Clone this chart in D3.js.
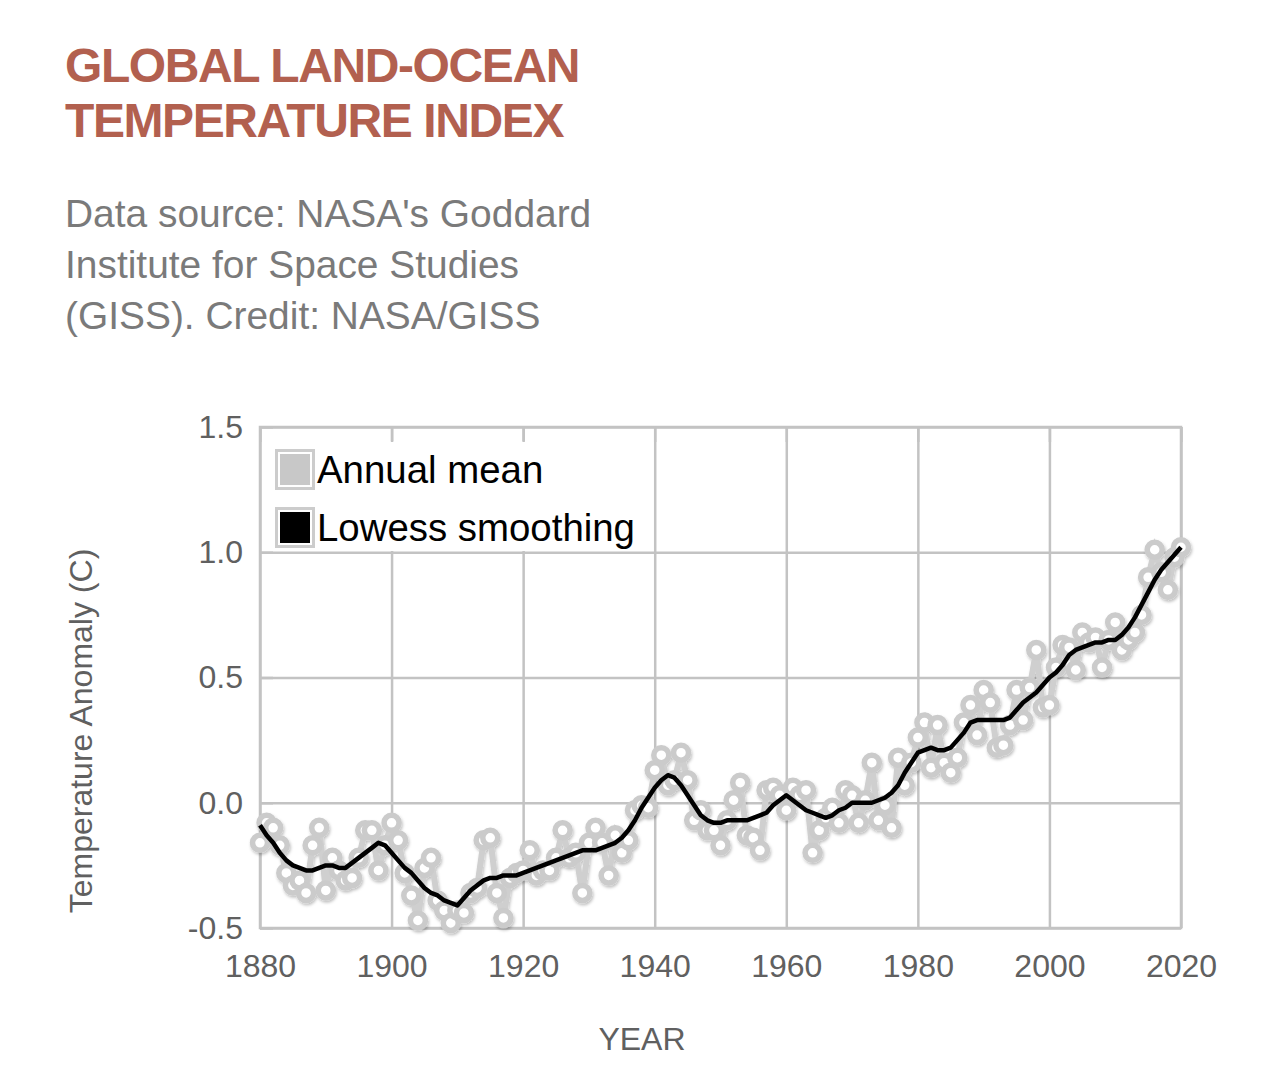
<!DOCTYPE html>
<html>
<head>
<meta charset="utf-8">
<script src="https://cdn.jsdelivr.net/npm/d3@7"></script>
<style>
  body { margin: 0; background: #fff; font-family: "Liberation Sans", Arial, sans-serif; }
  svg { display: block; }
</style>
</head>
<body>
<div id="chart"></div>
<script>
// GISTEMP annual mean anomaly, 1880-2020
var startYear = 1880;
var annualMean = [
  -0.16, -0.08, -0.10, -0.17, -0.28, -0.33, -0.31, -0.36, -0.17, -0.10,
  -0.35, -0.22, -0.27, -0.31, -0.30, -0.22, -0.11, -0.11, -0.27, -0.17,
  -0.08, -0.15, -0.28, -0.37, -0.47, -0.26, -0.22, -0.39, -0.43, -0.48,
  -0.43, -0.44, -0.36, -0.34, -0.15, -0.14, -0.36, -0.46, -0.30, -0.28,
  -0.27, -0.19, -0.29, -0.27, -0.27, -0.22, -0.11, -0.22, -0.20, -0.36,
  -0.16, -0.10, -0.16, -0.29, -0.13, -0.20, -0.15, -0.03, -0.01, -0.02,
   0.13,  0.19,  0.07,  0.09,  0.20,  0.09, -0.07, -0.03, -0.11, -0.11,
  -0.17, -0.07,  0.01,  0.08, -0.13, -0.14, -0.19,  0.05,  0.06,  0.03,
  -0.03,  0.06,  0.03,  0.05, -0.20, -0.11, -0.06, -0.02, -0.08,  0.05,
   0.03, -0.08,  0.01,  0.16, -0.07, -0.01, -0.10,  0.18,  0.07,  0.16,
   0.26,  0.32,  0.14,  0.31,  0.16,  0.12,  0.18,  0.32,  0.39,  0.27,
   0.45,  0.40,  0.22,  0.23,  0.31,  0.45,  0.33,  0.46,  0.61,  0.38,
   0.39,  0.54,  0.63,  0.62,  0.53,  0.68,  0.64,  0.66,  0.54,  0.65,
   0.72,  0.61,  0.65,  0.68,  0.75,  0.90,  1.01,  0.92,  0.85,  0.98,
   1.02
];
var lowess = [
  -0.09, -0.13, -0.16, -0.20, -0.23, -0.25, -0.26, -0.27, -0.27, -0.26,
  -0.25, -0.25, -0.26, -0.26, -0.24, -0.22, -0.20, -0.18, -0.16, -0.17,
  -0.20, -0.23, -0.26, -0.28, -0.31, -0.34, -0.36, -0.37, -0.39, -0.40,
  -0.41, -0.38, -0.35, -0.33, -0.31, -0.30, -0.30, -0.29, -0.29, -0.29,
  -0.28, -0.27, -0.26, -0.25, -0.24, -0.23, -0.22, -0.21, -0.20, -0.19,
  -0.19, -0.19, -0.18, -0.17, -0.16, -0.14, -0.11, -0.07, -0.02,  0.02,
   0.06,  0.09,  0.11,  0.10,  0.07,  0.03, -0.01, -0.05, -0.07, -0.08,
  -0.08, -0.07, -0.07, -0.07, -0.07, -0.06, -0.05, -0.04, -0.01,  0.01,
   0.03,  0.01, -0.01, -0.03, -0.04, -0.05, -0.06, -0.05, -0.03, -0.02,
   0.00,  0.00,  0.00,  0.00,  0.01,  0.02,  0.04,  0.07,  0.12,  0.16,
   0.20,  0.21,  0.22,  0.21,  0.21,  0.22,  0.25,  0.28,  0.32,  0.33,
   0.33,  0.33,  0.33,  0.33,  0.34,  0.37,  0.40,  0.42,  0.44,  0.47,
   0.50,  0.52,  0.55,  0.59,  0.61,  0.62,  0.63,  0.64,  0.64,  0.65,
   0.65,  0.67,  0.70,  0.74,  0.79,  0.84,  0.89,  0.93,  0.96,  0.99,
   1.02
];
var xTicks = [1880, 1900, 1920, 1940, 1960, 1980, 2000, 2020];
var yTicks = [-0.5, 0.0, 0.5, 1.0, 1.5];
var legendLabels = ['Annual mean', 'Lowess smoothing'];

var data = annualMean.map(function (v, i) {
    return { year: startYear + i, value: v, smooth: lowess[i] };
});

var W = 1284, H = 1090;
var margin = { top: 427, right: 103, bottom: 162, left: 260 };
var width = W - margin.left - margin.right;
var height = H - margin.top - margin.bottom;

var svg = d3.select('#chart').append('svg')
    .attr('width', W)
    .attr('height', H);

// Title + source
var titleColor = '#b2604f';
svg.append('text')
    .attr('x', 65).attr('y', 82)
    .style('font-size', '48px').style('font-weight', 'bold')
    .style('letter-spacing', '-1.4px')
    .style('fill', titleColor)
    .text('GLOBAL LAND-OCEAN');
svg.append('text')
    .attr('x', 65).attr('y', 137)
    .style('font-size', '48px').style('font-weight', 'bold')
    .style('letter-spacing', '-1.4px')
    .style('fill', titleColor)
    .text('TEMPERATURE INDEX');

var sourceLines = ["Data source: NASA's Goddard", 'Institute for Space Studies', '(GISS). Credit: NASA/GISS'];
svg.selectAll('.src')
    .data(sourceLines)
    .enter().append('text')
    .attr('class', 'src')
    .attr('x', 65)
    .attr('y', function (d, i) { return 227 + i * 51; })
    .style('font-size', '38.9px')
    .style('fill', '#7a7a7a')
    .text(function (d) { return d; });

var defs = svg.append('defs');
var shadow = defs.append('filter').attr('id', 'shadow')
    .attr('x', '-20%').attr('y', '-20%').attr('width', '140%').attr('height', '140%');
shadow.append('feDropShadow')
    .attr('dx', 1).attr('dy', 2).attr('stdDeviation', 1.5)
    .attr('flood-color', '#000').attr('flood-opacity', 0.25);

var g = svg.append('g')
    .attr('transform', 'translate(' + margin.left + ',' + margin.top + ')');

// Scales
var x = d3.scaleLinear().domain([1880, 2020]).range([0, width]);
var y = d3.scaleLinear().domain([-0.5, 1.5]).range([height, 0]);

var gridColor = '#c3c3c3';

// Grid
g.append('g')
    .call(d3.axisLeft(y).tickValues(yTicks).tickSize(-width).tickFormat(''))
    .call(function (s) { s.select('.domain').remove(); })
    .selectAll('line').attr('stroke', gridColor).attr('stroke-width', 2.5);
g.append('g')
    .attr('transform', 'translate(0,' + height + ')')
    .call(d3.axisBottom(x).tickValues(xTicks).tickSize(-height).tickFormat(''))
    .call(function (s) { s.select('.domain').remove(); })
    .selectAll('line').attr('stroke', gridColor).attr('stroke-width', 2.5);

// Legend background covers the grid
g.append('rect')
    .attr('x', 12).attr('y', 14)
    .attr('width', 369).attr('height', 110)
    .attr('fill', '#fff');

// Inner ticks drawn over the legend background
g.append('g')
    .call(d3.axisTop(x).tickValues(xTicks).tickSize(-15).tickFormat(''))
    .call(function (s) { s.select('.domain').remove(); })
    .selectAll('line').attr('stroke', gridColor).attr('stroke-width', 2.5);
g.append('g')
    .call(d3.axisLeft(y).tickValues(yTicks).tickSize(-13).tickFormat(''))
    .call(function (s) { s.select('.domain').remove(); })
    .selectAll('line').attr('stroke', gridColor).attr('stroke-width', 2.5);

// Frame
g.append('rect')
    .attr('width', width).attr('height', height)
    .attr('fill', 'none').attr('stroke', gridColor).attr('stroke-width', 2.5);

// Axis labels
var labelColor = '#606060';
var xAxis = g.append('g')
    .attr('transform', 'translate(0,' + height + ')')
    .call(d3.axisBottom(x).tickValues(xTicks).tickSize(0).tickPadding(26).tickFormat(d3.format('d')));
xAxis.select('.domain').remove();
xAxis.selectAll('text')
    .style('font-size', '32px').style('font-family', '"Liberation Sans", Arial, sans-serif')
    .attr('fill', labelColor);

var yAxis = g.append('g')
    .call(d3.axisLeft(y).tickValues(yTicks).tickSize(0).tickPadding(17)
        .tickFormat(function (d) { return d.toFixed(1); }));
yAxis.select('.domain').remove();
yAxis.selectAll('text')
    .style('font-size', '32px').style('font-family', '"Liberation Sans", Arial, sans-serif')
    .attr('fill', labelColor);

svg.append('text')
    .attr('x', 642).attr('y', 1050)
    .attr('text-anchor', 'middle')
    .style('font-size', '32px').style('fill', labelColor)
    .text('YEAR');

svg.append('text')
    .attr('transform', 'translate(92,731) rotate(-90)')
    .attr('text-anchor', 'middle')
    .style('font-size', '32px').style('fill', labelColor)
    .text('Temperature Anomaly (C)');

// Annual mean line + markers
var line = d3.line()
    .x(function (d) { return x(d.year); })
    .y(function (d) { return y(d.value); });
var smoothLine = d3.line()
    .x(function (d) { return x(d.year); })
    .y(function (d) { return y(d.smooth); });

var annual = g.append('g').attr('filter', 'url(#shadow)');
annual.append('path')
    .datum(data)
    .attr('d', line)
    .attr('fill', 'none')
    .attr('stroke', '#cfcfcf')
    .attr('stroke-width', 6);
annual.selectAll('.dot')
    .data(data)
    .enter().append('circle')
    .attr('class', 'dot')
    .attr('cx', function (d) { return x(d.year); })
    .attr('cy', function (d) { return y(d.value); })
    .attr('r', 7.5)
    .attr('fill', '#fff')
    .attr('stroke', '#cbcbcb')
    .attr('stroke-width', 5.5);

g.append('path')
    .datum(data)
    .attr('d', smoothLine)
    .attr('fill', 'none')
    .attr('stroke', '#000')
    .attr('stroke-width', 4.5)
    .attr('stroke-linejoin', 'round');

// Legend
var legend = g.append('g').attr('transform', 'translate(15,22)');
var swatchFill = ['#c8c8c8', '#000'];
legendLabels.forEach(function (lbl, i) {
    var row = legend.append('g').attr('transform', 'translate(0,' + (i * 58) + ')');
    row.append('rect')
        .attr('x', 1.5).attr('y', 1.5).attr('width', 37).attr('height', 38)
        .attr('fill', '#fff').attr('stroke', '#cccccc').attr('stroke-width', 3);
    row.append('rect')
        .attr('x', 5).attr('y', 5).attr('width', 30).attr('height', 31)
        .attr('fill', swatchFill[i]);
    row.append('text')
        .attr('x', 42).attr('y', 34)
        .style('font-size', '38.4px').style('fill', '#000')
        .text(lbl);
});
</script>
</body>
</html>
